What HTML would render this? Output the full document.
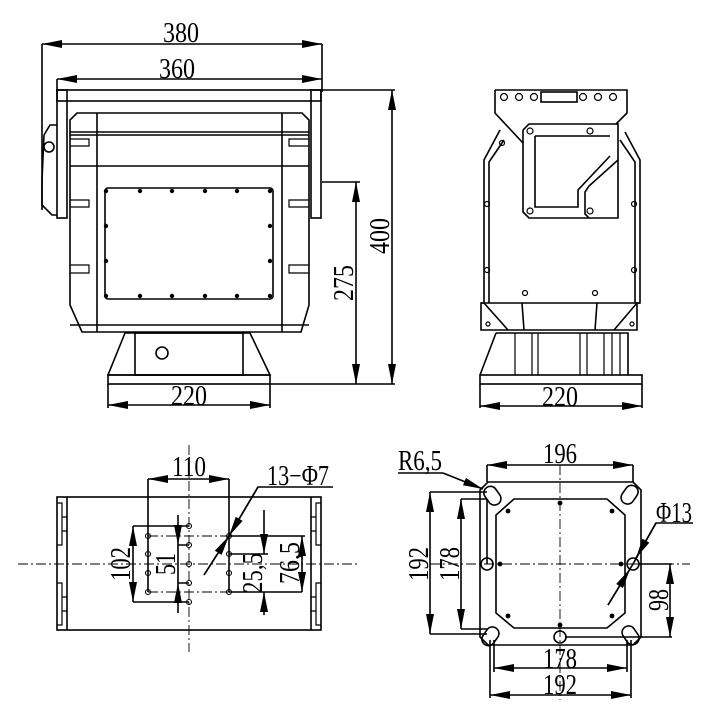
<!DOCTYPE html>
<html><head><meta charset="utf-8"><style>
html,body{margin:0;padding:0;background:#fff;}
svg{display:block;}
text{font-family:"Liberation Serif",serif;fill:#000;}
</style></head><body>
<svg width="719" height="712" viewBox="0 0 719 712" xmlns="http://www.w3.org/2000/svg">
<defs>
<marker id="a" viewBox="0 0 20 8" refX="20" refY="4" markerWidth="20" markerHeight="8" markerUnits="userSpaceOnUse" orient="auto-start-reverse"><path d="M0,0 L20,4 L0,8 Z" fill="#000"/></marker>
</defs>
<g stroke="#000" stroke-width="1.6" fill="none">
<!-- FRONT VIEW -->
<line x1="42" y1="44" x2="322" y2="44" marker-start="url(#a)" marker-end="url(#a)"/>
<line x1="42" y1="44" x2="42" y2="210"/><line x1="322" y1="44" x2="322" y2="92"/>
<line x1="57" y1="79" x2="322" y2="79" marker-start="url(#a)" marker-end="url(#a)"/>
<line x1="57" y1="79" x2="57" y2="92"/>
<rect x="57" y="90" width="264" height="11"/>
<rect x="57" y="90" width="10" height="128"/>
<rect x="311" y="90" width="10" height="128"/>
<path d="M44,135 L50,125 L57,125 M44,135 L42,180 L42,205 L52,215 L57,215"/>
<circle cx="49" cy="147" r="5"/>
<path d="M70,120 L77,113 L302,113 L309,120 L309,305 L301,332 L82,332 L70,305 Z"/>
<line x1="70" y1="132" x2="309" y2="132"/><line x1="70" y1="135" x2="309" y2="135"/>
<line x1="70" y1="166" x2="309" y2="166"/>
<line x1="97" y1="113" x2="97" y2="332"/><line x1="282" y1="113" x2="282" y2="332"/>
<line x1="70" y1="325" x2="309" y2="325"/>
<g stroke-width="1.2">
<path d="M70,139 L89,139 L89,146 L70,146"/><path d="M70,200 L89,200 L89,207 L70,207"/><path d="M70,265 L89,265 L89,273 L70,273"/>
<path d="M309,139 L289,139 L289,146 L309,146"/><path d="M309,200 L289,200 L289,207 L309,207"/><path d="M309,265 L289,265 L289,273 L309,273"/>
</g>
<rect x="105" y="188" width="168" height="111" rx="3"/>
<rect x="135" y="333" width="108" height="42"/>
<path d="M125,333 L250,333 L270,375 L108,375 Z"/>
<rect x="108" y="375" width="162" height="9"/>
<circle cx="162" cy="353" r="6"/>
<line x1="108" y1="384" x2="108" y2="408"/><line x1="270" y1="384" x2="270" y2="408"/>
<line x1="108" y1="405" x2="270" y2="405" marker-start="url(#a)" marker-end="url(#a)"/>
<line x1="322" y1="182" x2="360" y2="182"/><line x1="270" y1="384" x2="395" y2="384"/>
<line x1="356" y1="182" x2="356" y2="384" marker-start="url(#a)" marker-end="url(#a)"/>
<line x1="322" y1="90" x2="395" y2="90"/>
<line x1="392" y1="90" x2="392" y2="384" marker-start="url(#a)" marker-end="url(#a)"/>

<!-- SIDE VIEW -->
<path d="M495,90 L627,90 L627,113 L616,124 M495,90 L495,113 L523,143"/>
<rect x="541" y="92" width="36" height="10"/>
<path d="M523,130 L529,124 L618,124 L618,218 L589,218 L585,214 L585,192 L589,186 L618,160"/>
<path d="M523,130 L523,212 L529,218 L589,218"/>
<path d="M535,136 L610,136 M535,136 L535,207 L578,207 L578,190 L610,156"/>
<path d="M500,130 L484,160 L484,303 L481,303 L481,330 L637,330 L637,303 L640,303 L640,160 L625,132"/>
<path d="M504,140 L489,162 L489,303 M620,140 L635,162 L635,303"/>
<line x1="481" y1="303" x2="640" y2="303"/>
<path d="M484,303 L508,330 M637,303 L614,330 M522,303 L524,330 M597,303 L595,330"/>
<path d="M496,333 L628,333 L628,375 M496,333 L480,375"/>
<g stroke-width="1.2"><line x1="515" y1="333" x2="515" y2="375"/><line x1="532" y1="333" x2="532" y2="375"/><line x1="538" y1="333" x2="538" y2="375"/><line x1="580" y1="333" x2="580" y2="375"/><line x1="587" y1="333" x2="587" y2="375"/><line x1="604" y1="333" x2="604" y2="375"/><line x1="612" y1="333" x2="612" y2="375"/><line x1="620" y1="333" x2="620" y2="375"/></g>
<rect x="480" y="375" width="162" height="9"/>
<line x1="480" y1="384" x2="480" y2="408"/><line x1="642" y1="384" x2="642" y2="408"/>
<line x1="480" y1="406" x2="642" y2="406" marker-start="url(#a)" marker-end="url(#a)"/>

<!-- BOTTOM LEFT -->
<rect x="57" y="497" width="264" height="133"/>
<line x1="67" y1="497" x2="67" y2="630"/><line x1="311" y1="497" x2="311" y2="630"/>
<g stroke-width="1.2">
<path d="M57,503 L62,503 L62,545 L57,545 M62,517 L67,517 M62,531 L67,531"/>
<path d="M57,583 L62,583 L62,625 L57,625 M62,597 L67,597 M62,611 L67,611"/>
<path d="M321,503 L316,503 L316,545 L321,545 M316,517 L311,517 M316,531 L311,531"/>
<path d="M321,583 L316,583 L316,625 L321,625 M316,597 L311,597 M316,611 L311,611"/>
</g>
<g stroke-width="0.9" stroke-dasharray="10,3,2,3">
<line x1="18" y1="564" x2="360" y2="564"/><line x1="189" y1="445" x2="189" y2="652"/>
<line x1="148" y1="536" x2="229" y2="536"/><line x1="148" y1="592" x2="229" y2="592"/>
</g>
<line x1="148" y1="479" x2="148" y2="592"/><line x1="229" y1="479" x2="229" y2="592"/>
<line x1="148" y1="479" x2="229" y2="479" marker-start="url(#a)" marker-end="url(#a)"/>
<path d="M133,526 L189,526 M133,602 L189,602"/>
<line x1="133" y1="526" x2="133" y2="602" marker-start="url(#a)" marker-end="url(#a)"/>
<path d="M178,545 L189,545 M178,583 L189,583"/>
<line x1="178" y1="515" x2="178" y2="545" marker-end="url(#a)"/><line x1="178" y1="613" x2="178" y2="583" marker-end="url(#a)"/>
<line x1="178" y1="545" x2="178" y2="583"/>
<path d="M229,554 L268,554 M229,592 L302,592 M229,536 L305,536"/>
<line x1="264" y1="510" x2="264" y2="554" marker-end="url(#a)"/><line x1="264" y1="615" x2="264" y2="592" marker-end="url(#a)"/>
<line x1="302" y1="536" x2="302" y2="592" marker-start="url(#a)" marker-end="url(#a)"/>
<path d="M333,487 L258,487 L229,536 L204,575"/>
<line x1="258" y1="487" x2="229" y2="536" marker-end="url(#a)"/>
<line x1="204" y1="575" x2="229" y2="536" marker-end="url(#a)"/>
<g stroke-width="1.1"><circle cx="148" cy="536" r="2.5"/><circle cx="148" cy="554" r="2.5"/><circle cx="148" cy="573" r="2.5"/><circle cx="148" cy="592" r="2.5"/>
<circle cx="189" cy="526" r="2.5"/><circle cx="189" cy="545" r="2.5"/><circle cx="189" cy="564" r="2.5"/><circle cx="189" cy="583" r="2.5"/><circle cx="189" cy="602" r="2.5"/>
<circle cx="229" cy="536" r="2.5"/><circle cx="229" cy="554" r="2.5"/><circle cx="229" cy="573" r="2.5"/><circle cx="229" cy="592" r="2.5"/></g>

<!-- BOTTOM RIGHT -->
<path d="M488,482 L633,482 L641,490 L641,637 L633,645 L488,645 L480,637 L480,490 Z"/>
<path d="M514,499 L607,499 L625,515 L625,613 L607,628 L514,628 L496,613 L496,515 Z"/>
<g stroke-width="0.9" stroke-dasharray="10,3,2,3"><line x1="560" y1="465" x2="560" y2="700"/><line x1="430" y1="564" x2="690" y2="564"/></g>
<rect x="486" y="486" width="13" height="20" rx="6.5" transform="rotate(-35 492 496)"/>
<rect x="623" y="485" width="13" height="20" rx="6.5" transform="rotate(35 630 495)"/>
<rect x="484" y="626" width="13" height="20" rx="6.5" transform="rotate(35 490 636)"/>
<rect x="624" y="625" width="13" height="20" rx="6.5" transform="rotate(-35 631 635)"/>
<circle cx="487" cy="564" r="6"/><circle cx="633" cy="564" r="6"/><circle cx="560" cy="637" r="6"/>
<line x1="487" y1="465" x2="487" y2="482"/><line x1="633" y1="465" x2="633" y2="482"/>
<line x1="487" y1="465" x2="633" y2="465" marker-start="url(#a)" marker-end="url(#a)"/>
<path d="M430,492 L487,492 M430,634 L487,634 M461,499 L487,499 M461,629 L487,629"/>
<line x1="487" y1="499" x2="487" y2="564"/>
<line x1="430" y1="492" x2="430" y2="634" marker-start="url(#a)" marker-end="url(#a)"/>
<line x1="461" y1="499" x2="461" y2="629" marker-start="url(#a)" marker-end="url(#a)"/>
<path d="M639,564 L672,564 M565,637 L672,637"/>
<line x1="670" y1="564" x2="670" y2="637" marker-start="url(#a)" marker-end="url(#a)"/>
<line x1="494" y1="640" x2="494" y2="672"/><line x1="627" y1="640" x2="627" y2="672"/>
<line x1="490" y1="640" x2="490" y2="698"/><line x1="631" y1="640" x2="631" y2="698"/>
<line x1="494" y1="668" x2="627" y2="668" marker-start="url(#a)" marker-end="url(#a)"/>
<line x1="490" y1="695" x2="631" y2="695" marker-start="url(#a)" marker-end="url(#a)"/>
<path d="M398,473 L443,473"/>
<line x1="443" y1="473" x2="483" y2="489" marker-end="url(#a)"/>
<path d="M693,523 L656,523 L633,564 L608,605"/>
<line x1="656" y1="523" x2="636" y2="558" marker-end="url(#a)"/>
<line x1="608" y1="605" x2="630" y2="569" marker-end="url(#a)"/>
</g>
<g fill="#000">
<circle cx="106" cy="191" r="2.2"/><circle cx="140" cy="191" r="2.2"/><circle cx="172" cy="191" r="2.2"/><circle cx="205" cy="191" r="2.2"/><circle cx="237" cy="191" r="2.2"/><circle cx="270" cy="191" r="2.2"/>
<circle cx="106" cy="296" r="2.2"/><circle cx="140" cy="296" r="2.2"/><circle cx="172" cy="296" r="2.2"/><circle cx="205" cy="296" r="2.2"/><circle cx="237" cy="296" r="2.2"/><circle cx="270" cy="296" r="2.2"/>
<circle cx="106" cy="226" r="2.2"/><circle cx="106" cy="261" r="2.2"/><circle cx="270" cy="226" r="2.2"/><circle cx="270" cy="261" r="2.2"/>
<circle cx="560" cy="503" r="2.4"/><circle cx="560" cy="625" r="2.4"/><circle cx="500" cy="564" r="2.4"/><circle cx="621" cy="564" r="2.4"/>
<circle cx="508" cy="511" r="2.4"/><circle cx="612" cy="511" r="2.4"/><circle cx="508" cy="616" r="2.4"/><circle cx="612" cy="616" r="2.4"/>
</g>
<g fill="none" stroke="#000" stroke-width="1.2">
<circle cx="504" cy="97" r="3.5"/><circle cx="519" cy="97" r="3.5"/><circle cx="534" cy="97" r="3.5"/><circle cx="583" cy="97" r="3.5"/><circle cx="598" cy="97" r="3.5"/><circle cx="613" cy="97" r="3.5"/>
<circle cx="530" cy="131" r="3"/><circle cx="590" cy="131" r="3"/><circle cx="530" cy="211" r="3"/><circle cx="590" cy="211" r="3"/>
<circle cx="487" cy="204" r="2.5"/><circle cx="487" cy="270" r="2.5"/><circle cx="634" cy="204" r="2.5"/><circle cx="634" cy="270" r="2.5"/>
<circle cx="525" cy="293" r="2.5"/><circle cx="595" cy="293" r="2.5"/><circle cx="488" cy="324" r="2"/><circle cx="632" cy="324" r="2"/><circle cx="502" cy="143" r="2.5"/>
</g>
<g font-size="28" text-anchor="middle">
<text x="181" y="42" textLength="36" lengthAdjust="spacingAndGlyphs">380</text>
<text x="177" y="78" textLength="36" lengthAdjust="spacingAndGlyphs">360</text>
<text x="189" y="405" textLength="36" lengthAdjust="spacingAndGlyphs">220</text>
<text x="560" y="406" textLength="36" lengthAdjust="spacingAndGlyphs">220</text>
<text transform="translate(353,283) rotate(-90)" textLength="36" lengthAdjust="spacingAndGlyphs">275</text>
<text transform="translate(389,236) rotate(-90)" textLength="36" lengthAdjust="spacingAndGlyphs">400</text>
<text x="189" y="476" textLength="34" lengthAdjust="spacingAndGlyphs">110</text>
<text x="298" y="485" textLength="62" lengthAdjust="spacingAndGlyphs">13−Φ7</text>
<text transform="translate(130,564) rotate(-90)" textLength="34" lengthAdjust="spacingAndGlyphs">102</text>
<text transform="translate(175,564) rotate(-90)" textLength="22" lengthAdjust="spacingAndGlyphs">51</text>
<text transform="translate(262,573) rotate(-90)" textLength="40" lengthAdjust="spacingAndGlyphs">25,5</text>
<text transform="translate(299,563) rotate(-90)" textLength="42" lengthAdjust="spacingAndGlyphs">76,5</text>
<text x="560" y="463" textLength="34" lengthAdjust="spacingAndGlyphs">196</text>
<text x="420" y="470" textLength="44" lengthAdjust="spacingAndGlyphs">R6,5</text>
<text x="674" y="522" textLength="36" lengthAdjust="spacingAndGlyphs">Φ13</text>
<text transform="translate(428,564) rotate(-90)" textLength="34" lengthAdjust="spacingAndGlyphs">192</text>
<text transform="translate(459,564) rotate(-90)" textLength="34" lengthAdjust="spacingAndGlyphs">178</text>
<text transform="translate(668,600) rotate(-90)" textLength="22" lengthAdjust="spacingAndGlyphs">98</text>
<text x="560" y="668" textLength="34" lengthAdjust="spacingAndGlyphs">178</text>
<text x="560" y="694" textLength="34" lengthAdjust="spacingAndGlyphs">192</text>
</g>
</svg>
</body></html>
